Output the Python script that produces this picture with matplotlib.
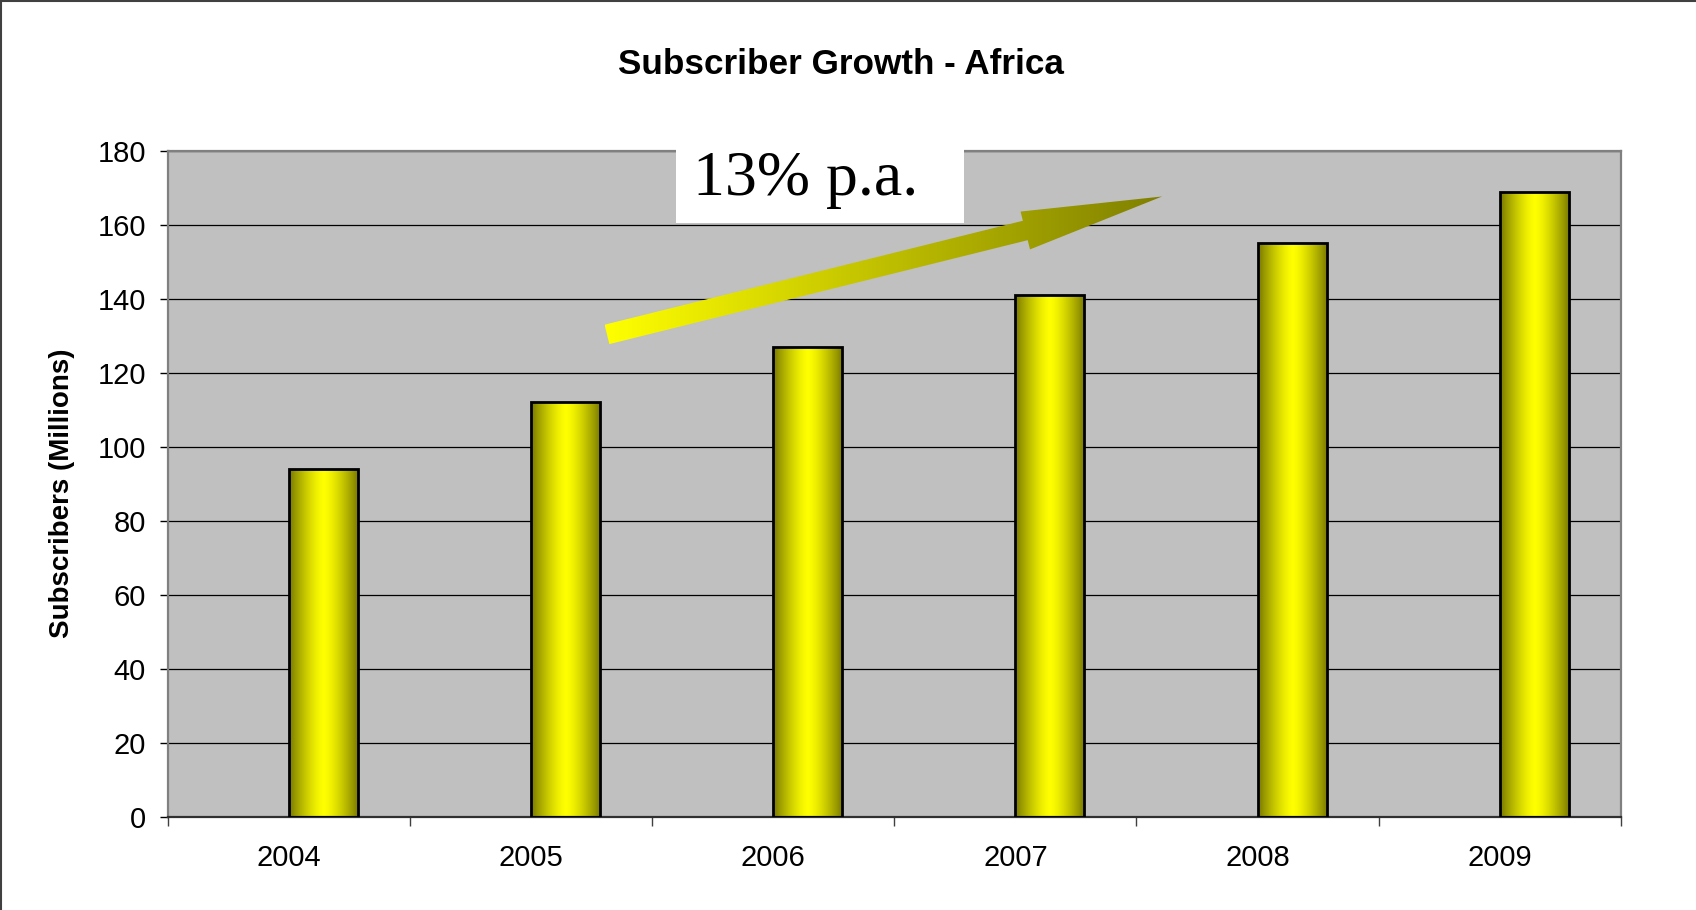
import numpy as np
import matplotlib
matplotlib.use("Agg")
import matplotlib.pyplot as plt
from matplotlib.patches import Rectangle, Polygon
from matplotlib.lines import Line2D

# Chart data
years = ["2004", "2005", "2006", "2007", "2008", "2009"]
subscribers = [94, 112, 127, 141, 155, 169]
y_ticks = [0, 20, 40, 60, 80, 100, 120, 140, 160, 180]
growth_label = "13% p.a."
title = "Subscriber Growth - Africa"
y_label = "Subscribers (Millions)"

plt.rcParams["font.family"] = ["Liberation Sans", "DejaVu Sans"]

W, H = 1696, 910
fig = plt.figure(figsize=(W / 100, H / 100), dpi=100)
fig.patch.set_facecolor("white")

ax = fig.add_axes([168 / W, 93.4 / H, (1620.7 - 168) / W, (816.6 - 151) / H])
ax.set_facecolor("#C0C0C0")

x = np.arange(len(years))
ax.set_xlim(-0.5, len(years) - 0.5)
ax.set_ylim(0, 180)

# Bars: outline from ax.bar, cylinder-style shading painted inside each bar
bars = ax.bar(x, subscribers, width=0.285, align="edge", facecolor="none",
              edgecolor="black", linewidth=2.0, zorder=3)

t = np.linspace(0, 1, 256)
shade = 1 - np.abs(2 * t - 1) ** 1.4
olive = np.array([0.47, 0.47, 0.0])
yellow = np.array([1.0, 1.0, 0.0])
bar_rgb = (olive + (yellow - olive) * shade[:, None])[None, :, :]
for b in bars:
    x0, y0, w, h = b.get_x(), b.get_y(), b.get_width(), b.get_height()
    ax.imshow(bar_rgb, extent=(x0, x0 + w, y0, y0 + h), aspect="auto",
              interpolation="bilinear", zorder=2.5)

ax.set_xlim(-0.5, len(years) - 0.5)
ax.set_ylim(0, 180)

# Grid and spines
ax.set_axisbelow(True)
ax.yaxis.grid(True, color="black", linewidth=0.9)
ax.set_yticks(y_ticks)
ax.tick_params(axis="y", length=6, width=1, color="black", pad=10, labelsize=21)
for side in ("left", "top", "right"):
    ax.spines[side].set_color("#808080")
    ax.spines[side].set_linewidth(1.6)
ax.spines["bottom"].set_color("#303030")
ax.spines["bottom"].set_linewidth(1.6)

# Category boundaries as ticks, year labels centred between them
ax.set_xticks(np.arange(-0.5, len(years), 1.0))
ax.set_xticklabels([])
ax.tick_params(axis="x", which="major", length=6.5, width=1, color="#404040")
ax.set_xticks(x, minor=True)
ax.set_xticklabels(years, minor=True)
ax.tick_params(axis="x", which="minor", length=0, pad=20, labelsize=21)

# Growth arrow with a yellow-to-olive gradient
start = np.array([1.313, 130.4])
end = np.array([3.606, 167.7])
p0 = ax.transData.transform(start)
p1 = ax.transData.transform(end)
d = p1 - p0
L = np.hypot(*d)
u = d / L
n = np.array([-u[1], u[0]])
shaft_hw, head_hw, head_len = 10.0, 19.5, 141.0
base = p1 - u * head_len
pts_px = np.array([
    p0 + n * shaft_hw,
    base + n * shaft_hw,
    base + n * head_hw,
    p1,
    base - n * head_hw,
    base - n * shaft_hw,
    p0 - n * shaft_hw,
])
pts = ax.transData.inverted().transform(pts_px)
arrow = Polygon(pts, closed=True, facecolor="none", edgecolor="none",
                transform=ax.transData)
ax.add_patch(arrow)
tx = np.linspace(0, 1, 256)
arrow_rgb = (yellow + (np.array([0.50, 0.50, 0.0]) - yellow) * tx[:, None])[None, :, :]
xmin, ymin = pts.min(axis=0)
xmax, ymax = pts.max(axis=0)
im = ax.imshow(arrow_rgb, extent=(xmin, xmax, ymin, ymax), aspect="auto",
               interpolation="bilinear", zorder=4)
im.set_clip_path(arrow)

ax.set_xlim(-0.5, len(years) - 0.5)
ax.set_ylim(0, 180)

# Growth rate label on a white box
ax.add_patch(Rectangle((1.598, 160.4), 1.19, 20.1, facecolor="white",
                       edgecolor="none", zorder=5, clip_on=False))
ax.text(2.132, 168.0, growth_label, ha="center", va="baseline", fontsize=46,
        family=["Liberation Serif", "DejaVu Serif"], zorder=6)

# Titles
fig.text(841 / W, 1 - 64 / H, title, ha="center", va="center",
         fontsize=25.3, fontweight="bold")
fig.text(62 / W, 1 - 493 / H, y_label, ha="center", va="center",
         rotation=90, fontsize=20, fontweight="bold")

# Frame lines along the top and left edges
fig.add_artist(Line2D([0, 1], [1 - 1 / H, 1 - 1 / H], transform=fig.transFigure,
                      color="#404040", linewidth=1.5))
fig.add_artist(Line2D([1 / W, 1 / W], [0, 1], transform=fig.transFigure,
                      color="#404040", linewidth=1.5))

fig.savefig("out.png", dpi=100)
